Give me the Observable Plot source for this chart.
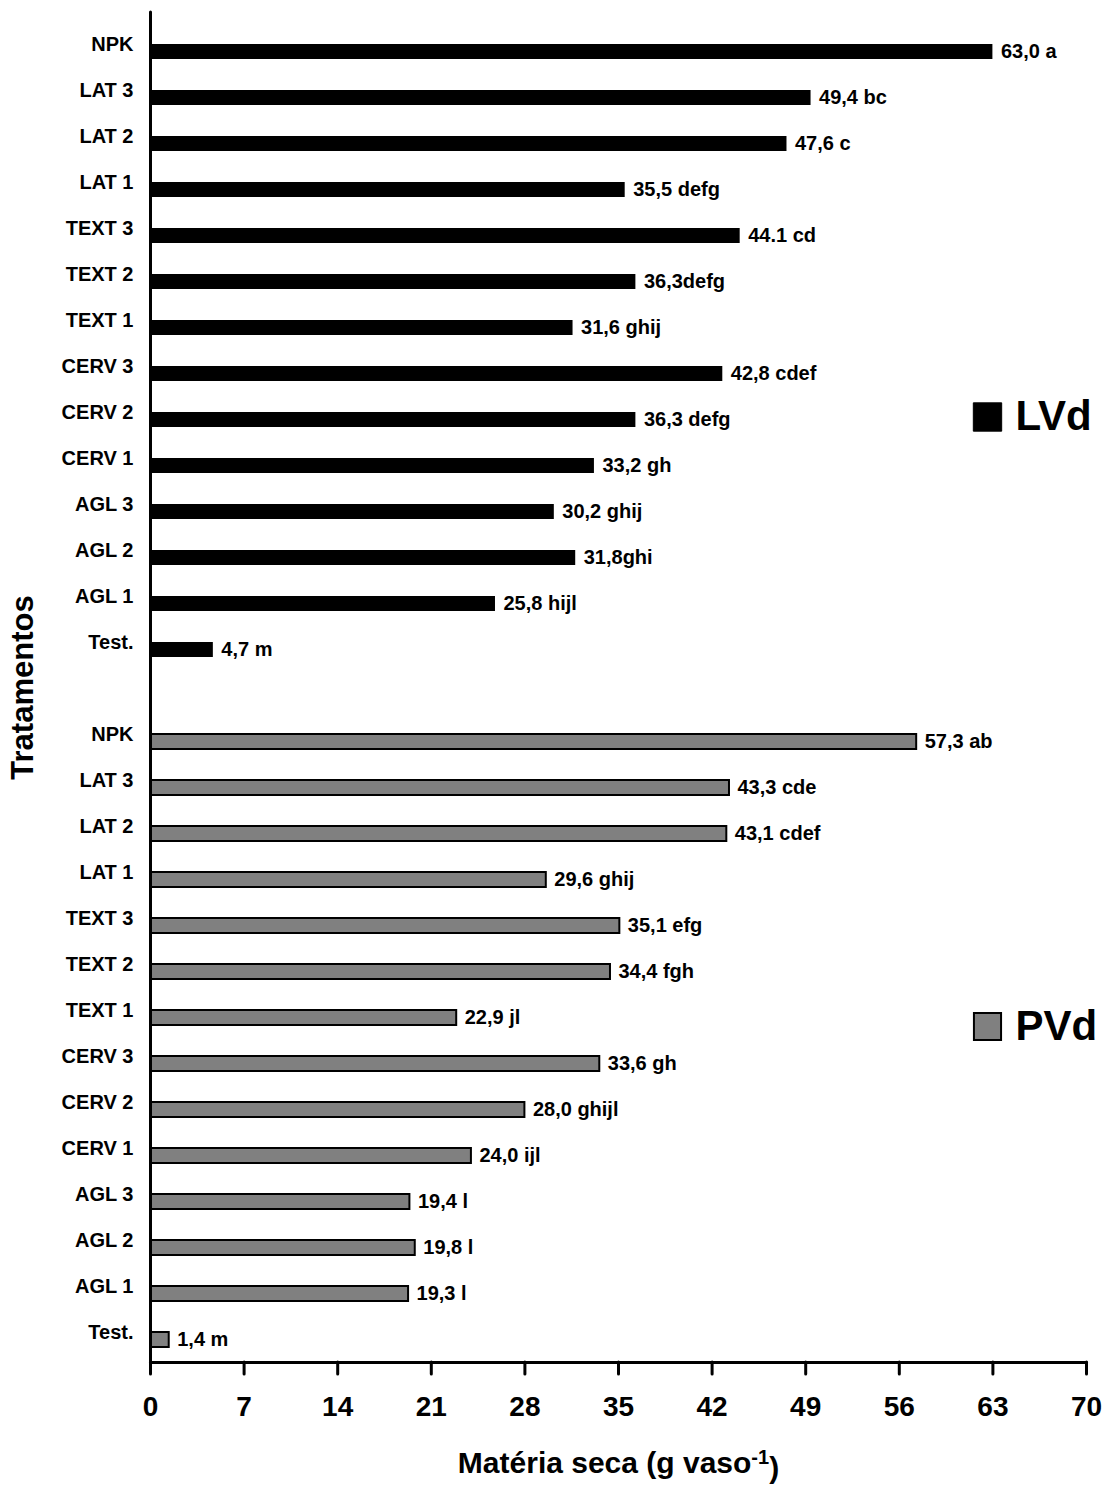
<!DOCTYPE html>
<html><head><meta charset="utf-8">
<script src="https://cdn.jsdelivr.net/npm/d3@7"></script>
<script src="https://cdn.jsdelivr.net/npm/@observablehq/plot@0.6"></script>
<style>body{margin:0;background:#fff}</style>
</head><body><div id="chart"></div>
<script>
const treatments = ["NPK","LAT 3","LAT 2","LAT 1","TEXT 3","TEXT 2","TEXT 1","CERV 3","CERV 2","CERV 1","AGL 3","AGL 2","AGL 1","Test."];
const lvdValues = [63.0,49.4,47.6,35.5,44.1,36.3,31.6,42.8,36.3,33.2,30.2,31.8,25.8,4.7];
const lvdLabels = ["63,0 a","49,4 bc","47,6 c","35,5 defg","44.1 cd","36,3defg","31,6 ghij","42,8 cdef","36,3 defg","33,2 gh","30,2 ghij","31,8ghi","25,8 hijl","4,7 m"];
const pvdValues = [57.3,43.3,43.1,29.6,35.1,34.4,22.9,33.6,28.0,24.0,19.4,19.8,19.3,1.4];
const pvdLabels = ["57,3 ab","43,3 cde","43,1 cdef","29,6 ghij","35,1 efg","34,4 fgh","22,9 jl","33,6 gh","28,0 ghijl","24,0 ijl","19,4 l","19,8 l","19,3 l","1,4 m"];
const xTicks = [0,7,14,21,28,35,42,49,56,63,70];
const xLabel = "Matéria seca (g vaso-1)";
const yLabel = "Tratamentos";

const lvd = treatments.map((t,i)=>({soil:"LVd", key:"LVd|"+t, value:lvdValues[i], label:lvdLabels[i]}));
const pvd = treatments.map((t,i)=>({soil:"PVd", key:"PVd|"+t, value:pvdValues[i], label:pvdLabels[i]}));
const all = lvd.concat(pvd);
const yDomain = [...lvd.map(d=>d.key), "gap", ...pvd.map(d=>d.key)];

const font = "'Liberation Sans', Arial, Helvetica, sans-serif";
const chart = Plot.plot({
  width: 1109, height: 1486,
  marginTop: 12, marginBottom: 124, marginLeft: 150, marginRight: 23,
  style: {fontFamily: font, fontWeight: "bold", background: "white", color: "black"},
  x: {domain: [0,70]},
  y: {type: "band", domain: yDomain, paddingInner: 0.677, paddingOuter: 0, insetTop: 24.5, insetBottom: 8.5},
  marks: [
    Plot.barX(lvd, {x: "value", y: "key", fill: "black"}),
    Plot.barX(pvd, {x: "value", y: "key", fill: "#808080", stroke: "black", strokeWidth: 2}),
    Plot.text(all, {x: "value", y: "key", text: "label", textAnchor: "start", dx: 8, fontSize: 20, fontWeight: "bold", fill: "black"}),
    Plot.axisX({ticks: xTicks, tickSize: 12, tickPadding: 22, fontSize: 28, strokeWidth: 3, strokeLinecap: "round", label: null, tickFormat: d=>String(d)}),
    Plot.axisY({tickSize: 0, tickPadding: 17, fontSize: 20, dy: -7, label: null, tickFormat: k => k === "gap" ? "" : k.split("|")[1]}),
    Plot.ruleX([0], {stroke: "black", strokeWidth: 3, strokeLinecap: "round"}),
    Plot.frame({anchor: "bottom", stroke: "black", strokeWidth: 3, strokeLinecap: "round"}),
    Plot.text([xLabel], {frameAnchor: "bottom", text: d=>d, textAnchor: "middle", lineAnchor: "middle", dy: 101, fontSize: 30, fontWeight: "bold", fill: "black"}),
    Plot.text([yLabel], {frameAnchor: "left", text: d=>d, textAnchor: "middle", lineAnchor: "middle", rotate: -90, dx: -127, fontSize: 31, fontWeight: "bold", fill: "black"}),
    // legend
    Plot.dot(["LVd"], {frameAnchor: "right", y: () => "LVd|CERV 2", dx: -99, dy: -3, symbol: "square", r: 16, fill: "black", stroke: "black", strokeWidth: 1}),
    Plot.text(["LVd"], {frameAnchor: "right", y: () => "LVd|CERV 2", dx: -71, dy: -3, text: d=>d, textAnchor: "start", lineAnchor: "middle", fontSize: 42, fontWeight: "bold", fill: "black"}),
    Plot.dot(["PVd"], {frameAnchor: "right", y: () => "PVd|TEXT 1", dx: -99, dy: 8.5, symbol: "square", r: 15.3, fill: "#808080", stroke: "black", strokeWidth: 2}),
    Plot.text(["PVd"], {frameAnchor: "right", y: () => "PVd|TEXT 1", dx: -71, dy: 8.5, text: d=>d, textAnchor: "start", lineAnchor: "middle", fontSize: 42, fontWeight: "bold", fill: "black"})
  ]
});
document.getElementById("chart").appendChild(chart);

// superscript in x label
d3.select(chart).selectAll("text").filter(function(){ return this.textContent === xLabel; }).each(function(){
  const t = d3.select(this);
  t.text(null);
  t.append("tspan").text("Matéria seca (g vaso");
  t.append("tspan").attr("dy", "-0.45em").attr("font-size", "20px").text("-1");
  t.append("tspan").attr("dy", "0.45em").text(")");
});
</script>
</body></html>
